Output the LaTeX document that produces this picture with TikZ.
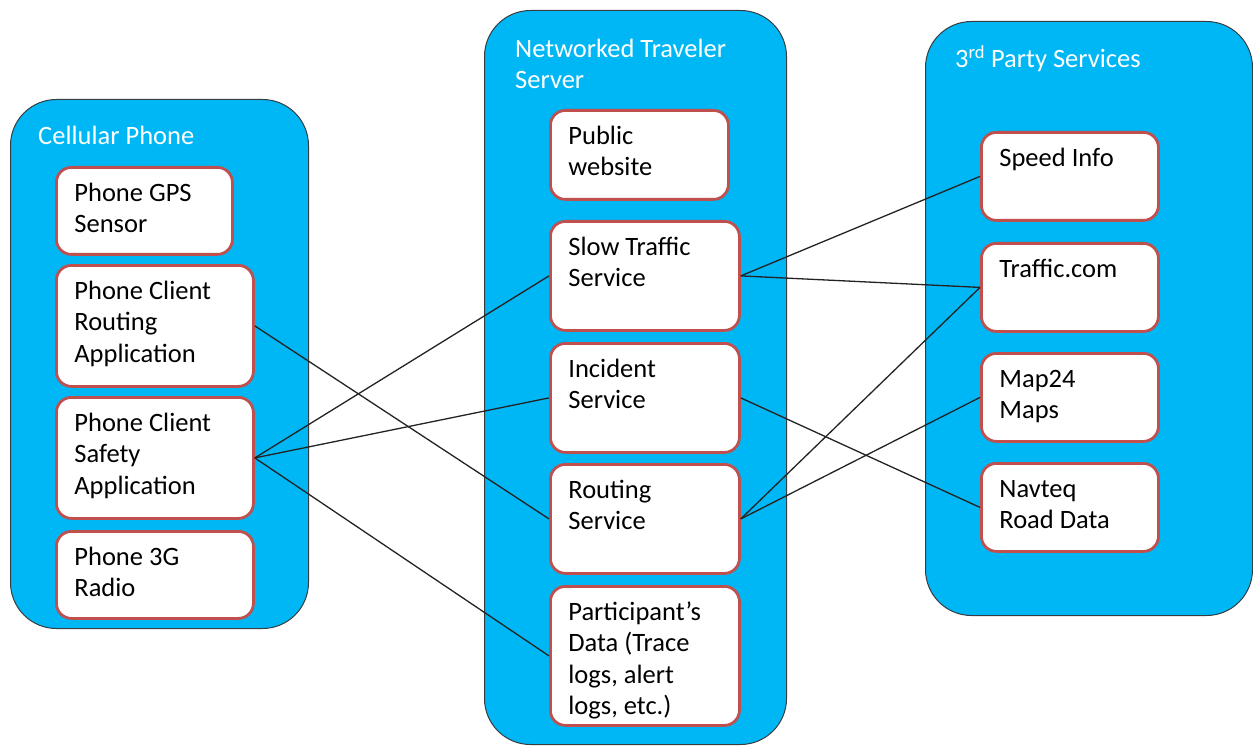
\documentclass[tikz,border=0pt]{standalone}
\usepackage{fontspec}
\setmainfont{Carlito}

\definecolor{groupfill}{RGB}{0,183,245}
\definecolor{groupedge}{RGB}{55,60,65}
\definecolor{boxedge}{RGB}{192,80,77}
\definecolor{linkcol}{RGB}{35,35,35}

% body of a component box: fixed size, text set from the top-left corner
\newcommand{\cellbody}[3]{\parbox[c][#2][t]{#1}{\raggedright\leftskip=18pt\rule{0pt}{34pt}#3}}

\tikzset{
  group/.style={draw=groupedge, line width=1pt, fill=groupfill, rounded corners=46pt,
    anchor=north west, inner sep=0pt},
  grouptitle/.style={text=white, anchor=base west, inner sep=0pt, align=left,
    font=\fontsize{26.5}{31.5}\selectfont},
  comp/.style={draw=boxedge, line width=2.8pt, fill=white, rounded corners=15pt,
    anchor=north west, inner sep=0pt, font=\fontsize{26.5}{31.5}\selectfont},
  link/.style={draw=linkcol, line width=1.3pt},
}

\begin{document}
\begin{tikzpicture}[x=1pt, y=-1pt]
\useasboundingbox (0,0) rectangle (1253,746);

% containers
\node[group, minimum width=298pt, minimum height=529pt] (phone) at (10,99) {};
\node[group, minimum width=302pt, minimum height=734pt] (server) at (484,10) {};
\node[group, minimum width=327pt, minimum height=594pt] (third) at (925,21) {};

\node[grouptitle] (phonetitle) at (38,145) {Cellular Phone};
\node[grouptitle, anchor=north west] (servertitle) at (515,38.5) {Networked Traveler\\Server};
\node[grouptitle] (thirdtitle) at (955,68) {3\textsuperscript{rd} Party Services};

% cellular phone components
\node[comp] (gps) at (55,166) {\cellbody{176pt}{87pt}{Phone GPS\\Sensor}};
\node[comp] (routeapp) at (55,264) {\cellbody{197pt}{121pt}{Phone Client\\Routing\\Application}};
\node[comp] (safety) at (55,396) {\cellbody{197pt}{121pt}{Phone Client\\Safety\\Application}};
\node[comp] (radio) at (55,530) {\cellbody{197pt}{87pt}{Phone 3G\\Radio}};

% server components
\node[comp] (pub) at (549,109) {\cellbody{178pt}{89pt}{Public\\website}};
\node[comp] (slow) at (549,220) {\cellbody{189pt}{109pt}{Slow Traffic\\Service}};
\node[comp] (incident) at (549,342) {\cellbody{189pt}{109pt}{Incident\\Service}};
\node[comp] (routing) at (549,463) {\cellbody{189pt}{109pt}{Routing\\Service}};
\node[comp] (data) at (549,585) {\cellbody{189pt}{139pt}{Participant’s\\Data (Trace\\logs, alert\\logs, etc.)}};

% third party components
\node[comp] (speed) at (980,131) {\cellbody{177pt}{88pt}{Speed Info}};
\node[comp] (traffic) at (980,242) {\cellbody{177pt}{88pt}{Traffic.com}};
\node[comp] (map) at (980,352) {\cellbody{177pt}{88pt}{Map24\\Maps}};
\node[comp] (navteq) at (980,462) {\cellbody{177pt}{88pt}{Navteq\\Road Data}};

% connections
\draw[link] (routeapp.east) -- (routing.west);
\draw[link] (safety.east) -- (slow.west);
\draw[link] (safety.east) -- (incident.west);
\draw[link] (safety.east) -- (data.west);
\draw[link] (slow.east) -- (speed.west);
\draw[link] (slow.east) -- (traffic.west);
\draw[link] (routing.east) -- (traffic.west);
\draw[link] (routing.east) -- (map.west);
\draw[link] (incident.east) -- (navteq.west);
\end{tikzpicture}
\end{document}
